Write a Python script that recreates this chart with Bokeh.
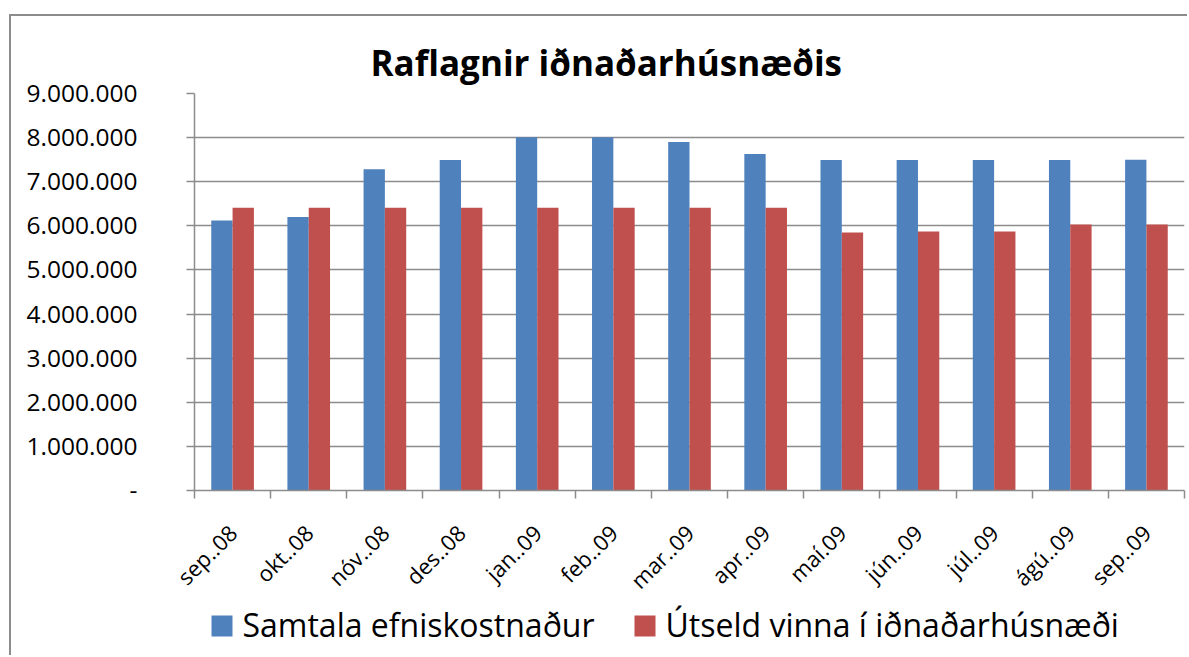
from bokeh.plotting import figure
from bokeh.layouts import column
from bokeh.models import ColumnDataSource, FixedTicker, Range1d
from bokeh.embed import file_html
from bokeh.resources import INLINE
from bokeh.core.properties import value

months = ["sep..08", "okt..08", "nóv..08", "des..08", "jan..09", "feb..09", "mar..09",
          "apr..09", "maí.09", "jún..09", "júl..09", "ágú..09", "sep..09"]
samtala = [6120000, 6200000, 7280000, 7490000, 8010000, 8010000, 7900000,
           7630000, 7490000, 7490000, 7490000, 7490000, 7500000]
utseld = [6410000, 6410000, 6410000, 6410000, 6410000, 6410000, 6410000,
          6410000, 5850000, 5870000, 5870000, 6030000, 6030000]
y_ticks = [0, 1000000, 2000000, 3000000, 4000000, 5000000, 6000000, 7000000, 8000000, 9000000]
y_tick_labels = ["-", "1.000.000", "2.000.000", "3.000.000", "4.000.000", "5.000.000",
                 "6.000.000", "7.000.000", "8.000.000", "9.000.000"]
series_names = ["Samtala efniskostnaður", "Útseld vinna í iðnaðarhúsnæði"]
series_colors = ["#4F81BD", "#C0504D"]
title_text = "Raflagnir iðnaðarhúsnæðis"

BLUE, RED = series_colors
GRID = "#8c8c8c"
FONT = "Open Sans"
BORDER = "2px solid #8c8c8c"
W = 1178
ML, MR = 183, 5

n = len(months)
idx = list(range(n))
src = ColumnDataSource(dict(
    x1=[i + 0.36 for i in idx],
    x2=[i + 0.64 for i in idx],
    s=samtala,
    u=utseld,
))

p = figure(width=W, height=592, output_backend="svg", toolbar_location=None,
           x_range=Range1d(0, n), y_range=Range1d(0, 9000000),
           min_border_left=ML, min_border_right=MR, min_border_top=77, min_border_bottom=118,
           styles={"border-left": BORDER, "border-top": BORDER})

p.title.text = title_text
p.title.text_font = FONT
p.title.text_font_style = "bold"
p.title.text_font_size = "35px"
p.title.align = "left"
p.title.offset = 176
p.title.standoff = 15
p.title.text_color = "black"

p.vbar(x="x1", top="s", width=0.28, source=src, fill_color=BLUE, line_color=None)
p.vbar(x="x2", top="u", width=0.28, source=src, fill_color=RED, line_color=None)

p.outline_line_color = None
p.background_fill_color = "white"
p.border_fill_color = "white"

# y axis
yax = p.yaxis[0]
yax.ticker = FixedTicker(ticks=y_ticks, minor_ticks=[])
yax.major_label_overrides = {t: l for t, l in zip(y_ticks, y_tick_labels)}
yax.major_label_text_font = FONT
yax.major_label_text_font_size = "24.5px"
yax.major_label_text_color = "black"
yax.major_label_standoff = 49
yax.major_tick_out = 8
yax.major_tick_in = 0
yax.major_tick_line_color = GRID
yax.major_tick_line_width = 1.5
yax.minor_tick_line_color = None
yax.axis_line_color = GRID
yax.axis_line_width = 1.5

# x axis
xax = p.xaxis[0]
centers = [i + 0.5 for i in idx]
xax.ticker = FixedTicker(ticks=centers, minor_ticks=list(range(n + 1)))
xax.major_label_overrides = {c: m for c, m in zip(centers, months)}
xax.major_label_orientation = 0.785398
xax.major_label_text_font = FONT
xax.major_label_text_font_size = "22px"
xax.major_label_text_color = "black"
xax.major_label_standoff = 30
xax.major_tick_line_color = None
xax.major_tick_out = 0
xax.major_tick_in = 0
xax.minor_tick_line_color = GRID
xax.minor_tick_line_width = 1.5
xax.minor_tick_out = 8
xax.minor_tick_in = 0
xax.axis_line_color = GRID
xax.axis_line_width = 1.5

p.xgrid.grid_line_color = None
p.ygrid.ticker = FixedTicker(ticks=y_ticks)
p.ygrid.grid_line_color = GRID
p.ygrid.grid_line_width = 1.5

# legend strip below the chart; its frame is aligned with the chart frame,
# so its x range is expressed in canvas pixels
LH = 57
pl = figure(width=W, height=LH, output_backend="svg", toolbar_location=None,
            x_range=Range1d(ML, W - MR), y_range=Range1d(0, LH),
            x_axis_location=None, y_axis_location=None,
            min_border=0, min_border_left=ML, min_border_right=MR,
            min_border_top=0, min_border_bottom=0,
            margin=(-8, 0, 0, 0),
            styles={"border-left": BORDER})
pl.title.visible = False
pl.outline_line_color = None
pl.xgrid.grid_line_color = None
pl.ygrid.grid_line_color = None
pl.background_fill_color = "white"
pl.border_fill_color = "white"

leg_glyph_x = [210.5, 633.5]
leg_text_x = [231, 654]
pl.rect(x=leg_glyph_x, y=[29.5, 29.5], width=21, height=21,
        width_units="screen", height_units="screen",
        fill_color=series_colors, line_color=None)
pl.text(x=leg_text_x, y=[31, 31], text=series_names,
        text_font=value(FONT), text_font_size="32px", text_color="black",
        text_align="left", text_baseline="alphabetic")

layout = column(p, pl, spacing=0, margin=(14, 0, 0, 9))

open("out.html", "w").write(file_html(layout, INLINE))
